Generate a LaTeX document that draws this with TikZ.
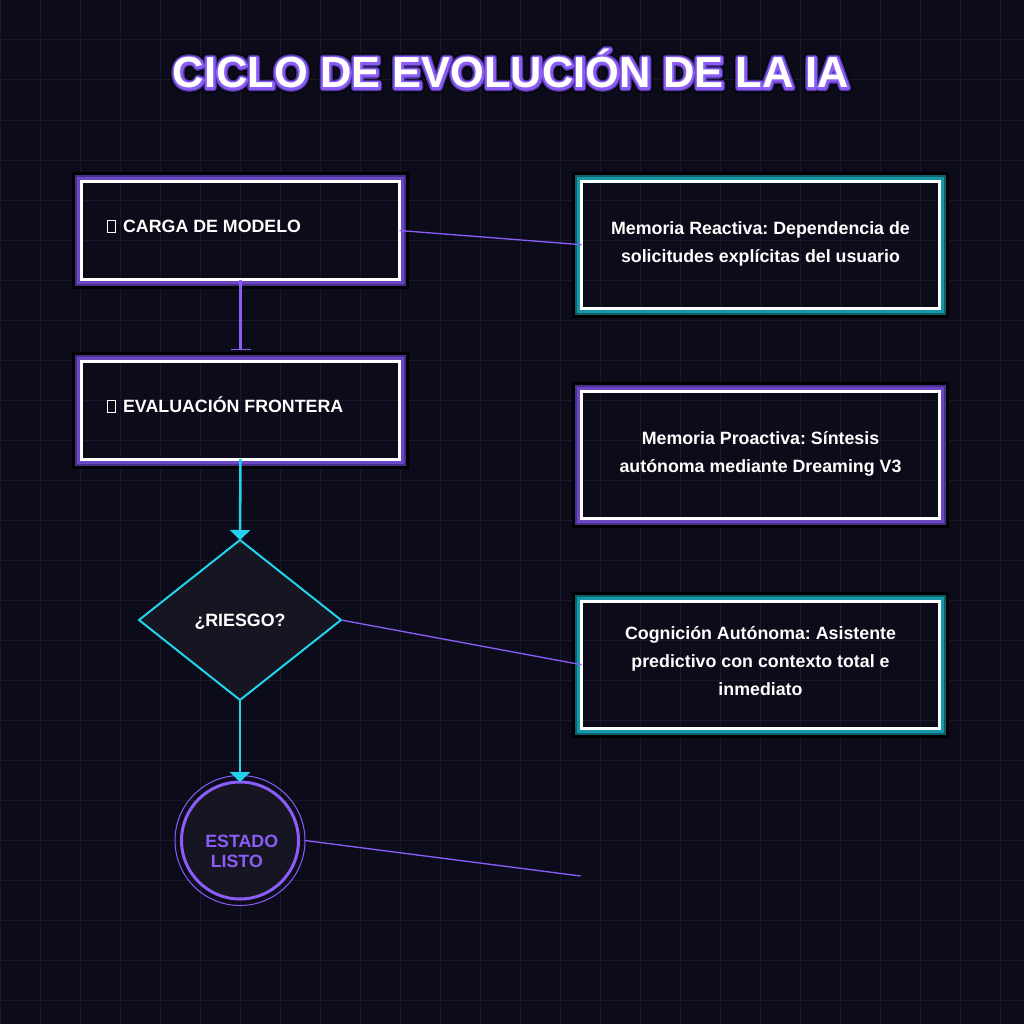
\documentclass[tikz,border=0pt]{standalone}
\usepackage{fontspec}
\setmainfont{Liberation Sans}
\frenchspacing
\usetikzlibrary{arrows.meta,shapes.geometric}
\definecolor{bgc}{HTML}{0B0B19}
\definecolor{gridc}{HTML}{19192B}
\definecolor{vio}{HTML}{8B5CF6}
\definecolor{viodark}{HTML}{45308E}
\definecolor{violight}{HTML}{6B47C4}
\definecolor{tealdark}{HTML}{0E5F6A}
\definecolor{teallight}{HTML}{1598AA}
\definecolor{cyanc}{HTML}{22D3EE}
\definecolor{shapefill}{HTML}{161622}
\newcommand{\boxglow}[3]{%
  \draw[#3, line width=2.25pt] ([shift={(-3,-3)}]#1.north west) rectangle ([shift={(3,3)}]#1.south east);
  \draw[#2, line width=1.5pt] ([shift={(-5.5,-5.5)}]#1.north west) rectangle ([shift={(5.5,5.5)}]#1.south east);
  \draw[black, line width=2.25pt] ([shift={(-8,-8)}]#1.north west) rectangle ([shift={(8,8)}]#1.south east);
}
\newcommand{\tofu}{{\setlength{\fboxsep}{0pt}\setlength{\fboxrule}{0.75pt}\fbox{\rule{0pt}{8.25pt}\hspace{5.25pt}}}}
\newcommand{\ttltext}{CICLO DE EVOLUCIÓN DE LA IA}
\newcommand{\strk}[2]{\special{pdf:literal direct 1 Tr 1 j #1 w #2 RG}}
\newcommand{\ttlglow}{%
  \rlap{\strk{6.75}{0 0 0}\ttltext}%
  \rlap{\strk{5.2}{0.27 0.19 0.56}\ttltext}%
  \rlap{\strk{3.2}{0.545 0.361 0.965}\ttltext}%
  \special{pdf:literal direct 0 Tr}\ttltext}
\begin{document}
\begin{tikzpicture}[x=0.75pt,y=-0.75pt,
  lbox/.style={draw=white, line width=2.25pt, rectangle, inner sep=0pt, outer sep=0pt, minimum width=238.5pt, minimum height=73.5pt},
  rbox/.style={draw=white, line width=2.25pt, rectangle, inner sep=0pt, outer sep=0pt, minimum width=268.5pt, minimum height=95.25pt},
  lbl/.style={text=white, font=\fontsize{13.35pt}{21pt}\selectfont\bfseries, inner sep=0pt},
  rtxt/.style={lbl, align=center},
  ttl/.style={font=\fontsize{32.6pt}{36pt}\selectfont\bfseries, inner sep=0pt, anchor=base},
  thin/.style={vio, line width=1pt},
  flow/.style={cyanc, line width=1.9pt, -{Triangle[width=15pt, length=7.5pt]}},
]
\fill[bgc] (0,0) rectangle (1024,1024);
\useasboundingbox (0,0) rectangle (1024,1024);
\foreach \k in {0,40,...,1000} {
  \draw[gridc, line width=0.75pt] (\k,0) -- (\k,1024);
  \draw[gridc, line width=0.75pt] (0,\k) -- (1024,\k);
}
% title
\node[ttl, text=white] (title) at (511,88) {\ttlglow};

% left boxes
\node[lbox] (b1) at (240.5,230.5) {};
\boxglow{b1}{viodark}{violight}
\node[lbl, anchor=base west] (b1t) at (106.5,232) {\tofu\hspace{5.5pt}CARGA DE MODELO};
\node[lbl, anchor=base west] (b2t) at (106.5,412) {\tofu\hspace{5.5pt}EVALUACIÓN FRONTERA};
\node[lbox] (b2) at (240.5,410) {};
\boxglow{b2}{viodark}{violight}

% right boxes
\node[rbox] (r1) at (760.5,244.7) {};
\boxglow{r1}{tealdark}{teallight}
\node[rtxt] (r1t) at (760.5,243.4) {Memoria Reactiva: Dependencia de\\solicitudes explícitas del usuario};
\node[rbox] (r2) at (760.5,454.7) {};
\boxglow{r2}{viodark}{violight}
\node[rtxt] (r2t) at (760.5,453.4) {Memoria Proactiva: Síntesis\\autónoma mediante Dreaming V3};
\node[rbox] (r3) at (760.5,664.7) {};
\boxglow{r3}{tealdark}{teallight}
\node[rtxt] (r3t) at (760.5,661) {Cognición Autónoma: Asistente\\predictivo con contexto total e\\inmediato};

% diamond
\node[diamond, draw=cyanc, fill=shapefill, line width=1.5pt, minimum width=151.5pt, minimum height=120pt, inner sep=0pt, outer sep=0pt] (d) at (240,620) {};
\node[lbl, anchor=base] (dt) at (240,626.5) {¿RIESGO?};

% circle
\node[circle, draw=vio, fill=shapefill, line width=2.25pt, minimum size=87.75pt, inner sep=0pt, outer sep=0pt] (c) at (240,840.5) {};
\draw[vio, line width=0.75pt] (c.center) circle[radius=65];
\node[lbl, text=vio, anchor=base west] (ct1) at (205,847.3) {ESTADO};
\node[lbl, text=vio, anchor=base west] (ct2) at (210.5,867.7) {LISTO};

% connectors
\draw[vio, line width=2pt, shorten >=8.25pt, -{Bar[width=15pt, line width=0.9pt]}] (b1.south) -- (b2.north);
\draw[flow] (b2.south) -- (d.north);
\draw[flow] (d.south) -- (c.north);
\coordinate (free) at (580.5,876);
\draw[thin] (b1.east) -- (r1.west);
\draw[thin] (d.east) -- (r3.west);
\draw[thin] ([xshift=4.9pt]c.east) -- (free);
\end{tikzpicture}
\end{document}
